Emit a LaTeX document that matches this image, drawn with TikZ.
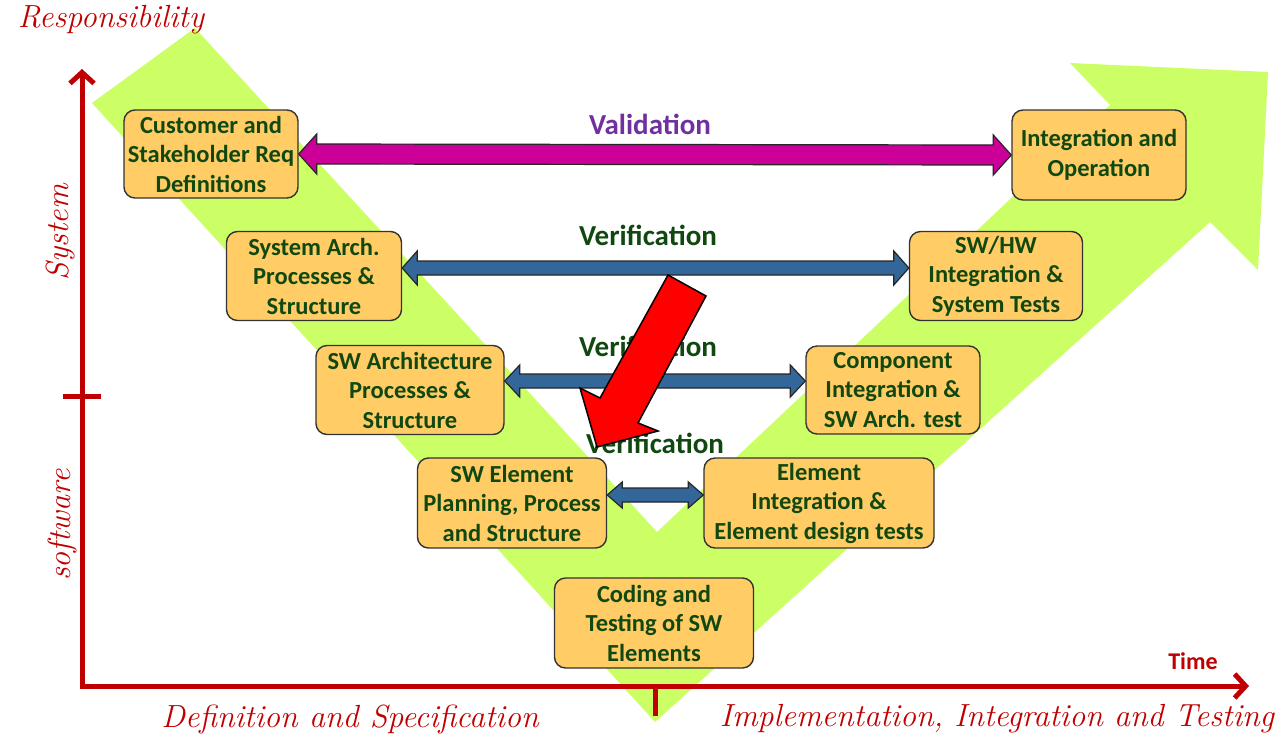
\documentclass[tikz,border=0pt]{standalone}
\usepackage{fontspec}
\newfontfamily\boxfont{Carlito}
\usetikzlibrary{arrows.meta,calc}

\definecolor{vgreen}{RGB}{204,255,102}
\definecolor{boxfill}{RGB}{255,204,102}
\definecolor{boxtext}{RGB}{16,72,16}
\definecolor{axisred}{RGB}{192,0,0}
\definecolor{valmag}{RGB}{204,0,153}
\definecolor{valpurple}{RGB}{112,48,160}
\definecolor{verblue}{RGB}{51,102,153}

% horizontal block arrow with a head at both ends
% #1 start, #2 end, #3 half shaft width, #4 half head width, #5 head length, #6 style
\newcommand\dblarrow[6]{%
  \draw[#6] let \p1=(#1), \p2=(#2) in
    (\x1,\y1) -- (\x1+#5,\y1+#4) -- (\x1+#5,\y1+#3) -- (\x2-#5,\y2+#3)
    -- (\x2-#5,\y2+#4) -- (\x2,\y2) -- (\x2-#5,\y2-#4) -- (\x2-#5,\y2-#3)
    -- (\x1+#5,\y1-#3) -- (\x1+#5,\y1-#4) -- cycle;}

\begin{document}
\begin{tikzpicture}[x=1pt,y=-1pt,
  stage/.style={draw=black!80, line width=1.4pt, fill=boxfill,
    rounded corners=11pt, align=center, text=boxtext, inner sep=1pt,
    font={\boxfont\bfseries\fontsize{24.5}{29.5}\selectfont}},
  axis/.style={axisred, line width=5pt},
  axislabel/.style={text=axisred, font={\itshape\fontsize{32}{34}\selectfont}},
  timelabel/.style={text=axisred, font={\boxfont\bfseries\fontsize{24}{26}\selectfont}},
  vlabel/.style={font={\boxfont\bfseries\fontsize{29}{32}\selectfont}},
  valarrow/.style={fill=valmag, draw=black!85, line width=1.2pt, line join=miter},
  verarrow/.style={fill=verblue, draw=black!85, line width=1.2pt, line join=miter},
  redarrow/.style={fill=red, draw=black, line width=1.5pt, line join=miter}
]
\fill[white] (0,0) rectangle (1284,737);
\useasboundingbox (0,0) rectangle (1284,737);

% the V band, ending in an arrow head at the upper right
\fill[vgreen] (92,103) -- (195,28) -- (657,532) -- (1110,105) -- (1070,63)
  -- (1268,72) -- (1258,270) -- (1210,222) -- (655,722) -- cycle;

% axes
\coordinate (origin) at (82,686);
\coordinate (ytip) at (82,69);
\coordinate (xtip) at (1249,686);
\draw[axis, {Straight Barb[length=11pt,width=24pt]}-{Straight Barb[length=11pt,width=24pt]}]
  (ytip) -- (origin) -- (xtip);
\draw[axis] (63,396) -- (101,396);
\draw[axis] (655,686) -- (655,716);

% axis labels
\node[axislabel] (resp) at (111,20) {Responsibility};
\node[axislabel, rotate=90] (sys) at (60,232) {System};
\node[axislabel, rotate=90] (sw) at (62,525) {software};
\node[axislabel] (defspec) at (350,719) {Definition and Specification};
\node[axislabel] (impl) at (997,719) {Implementation, Integration and Testing};
\node[timelabel] (time) at (1193,661) {Time};

% stages of the V
\node[stage, minimum width=174pt, minimum height=88pt] (custreq) at (211,154)
  {Customer and\\Stakeholder Req\\Definitions};
\node[stage, minimum width=174pt, minimum height=90pt] (intop) at (1099,155)
  {Integration and\\Operation};
\node[stage, minimum width=175pt, minimum height=89pt] (sysarch) at (314,276)
  {System Arch.\\Processes \&\\Structure};
\node[stage, minimum width=173pt, minimum height=89pt] (swhw) at (996,276)
  {SW/HW\\Integration \&\\System Tests};
\node[stage, minimum width=188pt, minimum height=89pt] (swarch) at (410,390)
  {SW Architecture\\Processes \&\\Structure};
\node[stage, minimum width=174pt, minimum height=88pt] (compint) at (893,390)
  {Component\\Integration \&\\SW Arch. test};
\node[stage, minimum width=189pt, minimum height=90pt] (swelem) at (512,503)
  {SW Element\\Planning, Process\\and Structure};
\node[stage, minimum width=230pt, minimum height=90pt] (elemint) at (819,503)
  {Element\\Integration \&\\Element design tests};
\node[stage, minimum width=199pt, minimum height=90pt] (coding) at (654,623)
  {Coding and\\Testing of SW\\Elements};

% validation and verification links
\dblarrow{custreq.east}{intop.west}{10pt}{20pt}{18pt}{valarrow}
\dblarrow{[yshift=8pt]sysarch.east}{[yshift=8pt]swhw.west}{7pt}{17pt}{15pt}{verarrow}
\dblarrow{[yshift=9pt]swarch.east}{[yshift=9pt]compint.west}{7pt}{16pt}{15pt}{verarrow}
\dblarrow{[yshift=8pt]swelem.east}{[yshift=8pt]elemint.west}{7pt}{13pt}{15pt}{verarrow}

\node[vlabel, text=valpurple] (val) at (650,124) {Validation};
\node[vlabel, text=boxtext] (ver1) at (648,235) {Verification};
\node[vlabel, text=boxtext] (ver2) at (648,346) {Verification};
\node[vlabel, text=boxtext] (ver3) at (655,443) {Verification};

% red pointer
\draw[redarrow] (668,275) -- (706,296) -- (638,423) -- (658,431) -- (597,447)
  -- (580,388) -- (600,398) -- cycle;
\end{tikzpicture}
\end{document}
